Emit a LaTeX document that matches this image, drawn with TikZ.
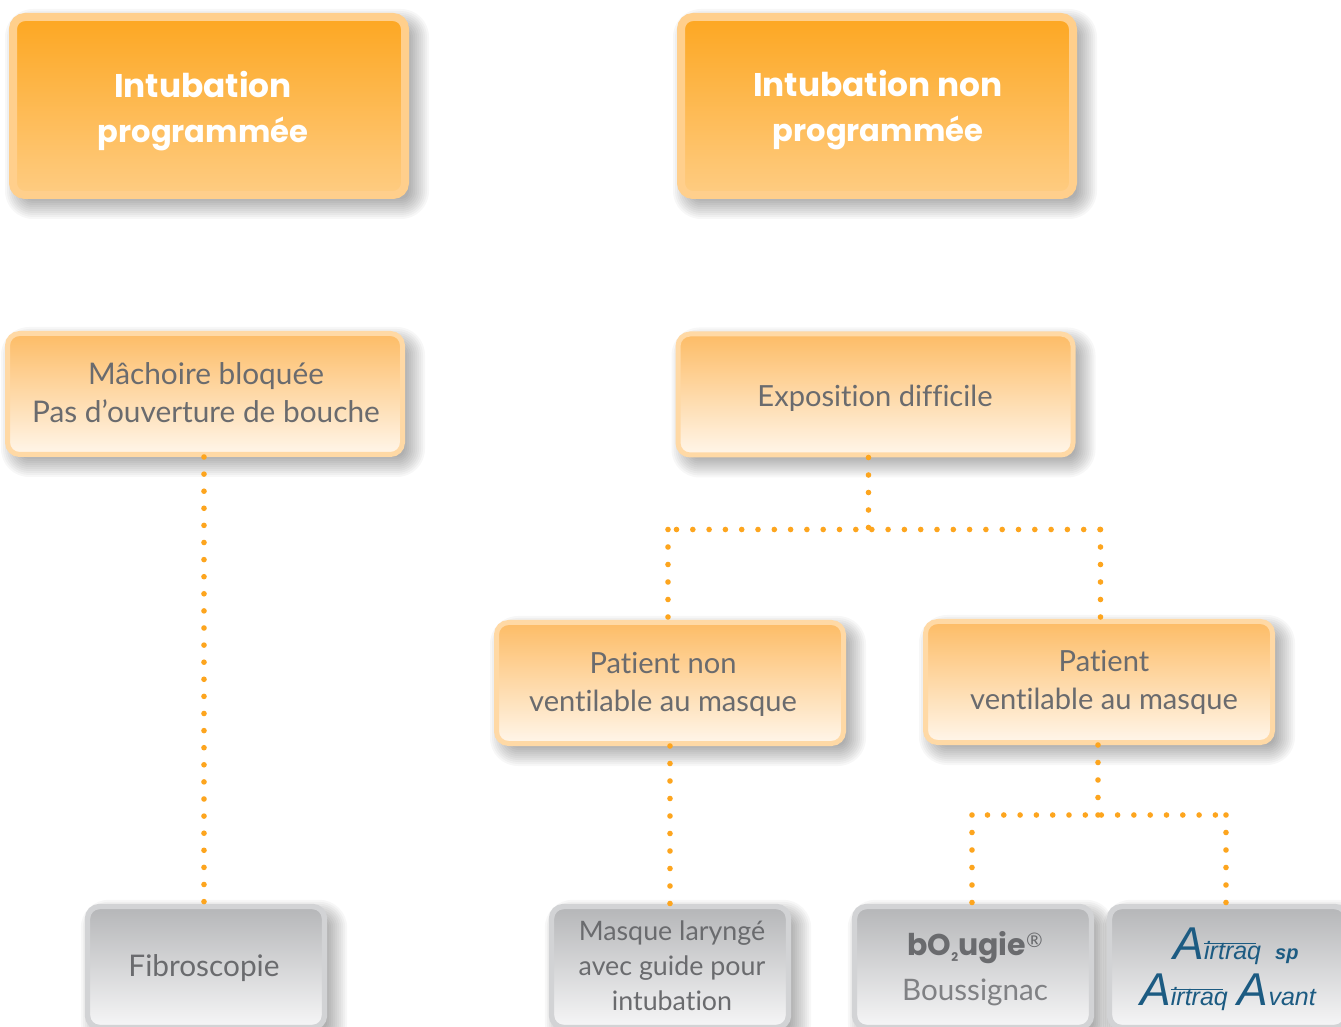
\documentclass[tikz,border=0pt]{standalone}
\usepackage{xcolor}
\usepackage{fontspec}
\setmainfont{Lato}[Ligatures=NoCommon]
\newfontfamily\boldface{Poppins}[BoldFont={* Bold},Ligatures=NoCommon]
\newfontfamily\logoface{Liberation Sans}
\usepackage{tikz}
\usetikzlibrary{positioning,backgrounds}
\definecolor{dotorange}{HTML}{FDA51E}
\definecolor{inktext}{HTML}{6A6B6E}
\definecolor{airblue}{HTML}{1C5B82}
\definecolor{headtop}{HTML}{FDA722}
\definecolor{headbot}{HTML}{FECC82}
\definecolor{headborder}{HTML}{FFCF8C}
\definecolor{softtop}{HTML}{FDBC66}
\definecolor{softbot}{HTML}{FFF6EA}
\definecolor{softborder}{HTML}{FFD9A5}
\definecolor{greytop}{HTML}{B5B6B8}
\definecolor{greybot}{HTML}{F6F6F7}
\definecolor{greyborder}{HTML}{D2D3D5}
\newcommand{\airA}[1]{{\fontsize{23}{23}\selectfont #1}}
\newcommand{\airword}{\airA{A}\rlap{\raisebox{7.5pt}{\rule{26pt}{.6pt}}}irtraq}
\newcommand{\headline}[1]{{\fontsize{16.4}{22.5}\selectfont #1}}
% stacked translucent fills stand in for a blurred shadow
\newcommand{\boxshadow}[1]{%
  \begin{scope}[on background layer]
  \foreach \r in {-8,-6,...,12} {
    \pgfmathsetmacro{\rad}{(16+\r)/2}
    \fill[black,opacity=.03,rounded corners=\rad pt]
      ([shift={(8-\r,8-\r)}]#1.north west) rectangle ([shift={(8+\r,8+\r)}]#1.south east);
  }
  \end{scope}}
\tikzset{
  hdrbox/.style={draw=#1,rounded corners=6pt,inner sep=0pt},
  headbox/.style={hdrbox=headborder,line width=4pt,top color=headtop,bottom color=headbot,minimum width=196pt,minimum height=89pt},
  softbox/.style={hdrbox=softborder,line width=2.5pt,top color=softtop,bottom color=softbot,minimum width=197.5pt,minimum height=60.5pt},
  softwide/.style={softbox,minimum width=173.5pt},
  greybox/.style={hdrbox=greyborder,line width=2.7pt,top color=greytop,bottom color=greybot,minimum width=118.5pt,minimum height=60.5pt},
  headtext/.style={font=\boldface\bfseries\fontsize{15.3}{22.5}\selectfont,text=white,align=center},
  bodytext/.style={font=\fontsize{14.9}{19}\selectfont,text=inktext,align=center},
  slimtext/.style={bodytext,font=\fontsize{14.55}{19}\selectfont},
  logotext/.style={font=\logoface\itshape\fontsize{12.5}{13}\selectfont,text=airblue},
  dotv/.style={draw=dotorange,line width=2.8pt,line cap=round,dash pattern=on 0pt off 8.75pt},
  doth/.style={draw=dotorange,line width=2.8pt,line cap=round,dash pattern=on 0pt off 8.15pt},
}
\begin{document}
\begin{tikzpicture}[x=0.5pt,y=-0.5pt]
\useasboundingbox (0,0) rectangle (1341,1027);
\begin{scope}[on background layer]
\fill[white] (0,0) rectangle (1341,1027);
\end{scope}
% top row
\node[headbox] (prog) at (209,106) {};
\node[headbox] (nonprog) at (877,106) {};
\node[headtext] (progtext) at (203,111) {\headline{Intubation}\\programmée};
\node[headtext] (nonprogtext) at (878,110) {\headline{Intubation non}\\programmée};
% second row
\node[softbox] (jaw) at (205,394) {};
\node[softbox] (expo) at (875.5,394.5) {};
\node[bodytext] (jawtext) at (206,393) {Mâchoire bloquée\\Pas d’ouverture de bouche};
\node[slimtext] (expotext) at (875,398) {Exposition difficile};
% third row
\node[softwide] (nonvent) at (670,683) {};
\node[softwide] (vent) at (1099,682) {};
\node[slimtext] (nonventtext) at (663,684.5) {Patient non\\ventilable au masque};
\node[slimtext] (venttext) at (1104,682.5) {Patient\\ventilable au masque};
% bottom row
\node[greybox] (fibro) at (206,967) {};
\node[greybox] (larynx) at (670,967) {};
\node[greybox] (bougie) at (973,967) {};
\node[greybox] (airtraq) at (1228,967) {};
\node[bodytext] (fibrotext) at (204,968) {Fibroscopie};
\node[bodytext,font=\fontsize{13.4}{17.5}\selectfont] (larynxtext) at (672,966) {Masque laryngé\\avec guide pour\\intubation};
\node[font=\boldface\bfseries\fontsize{15}{15}\selectfont,text=inktext] (bougielogo) at (975,948) {bO\raisebox{-3pt}{\fontsize{6}{6}\selectfont 2}ugie\raisebox{4pt}{\fontsize{10}{10}\selectfont\normalfont\mdseries ®}};
\node[bodytext,font=\fontsize{14.8}{19}\selectfont,text=inktext!85] (bougietext) at (975,992) {Boussignac};
\node[logotext] (airsp) at (1236,946) {\airword\hspace{7pt}{\fontsize{10}{10}\selectfont\bfseries sp}};
\node[logotext] (airavant) at (1228,992) {\airword\hspace{5pt}\airA{A}vant};
% shadows
\foreach \b in {prog,nonprog,jaw,expo,nonvent,vent,fibro,larynx,bougie,airtraq} {\boxshadow{\b}}
% connectors
\coordinate (jfibro) at (204,680);
\coordinate (jlarynx) at (670,820);
\coordinate (jexpo) at (868.5,529.5);
\coordinate (jleft) at (668,529.5);
\coordinate (jright) at (1100.5,529.5);
\coordinate (jvent) at (1098,815);
\coordinate (jbougie) at (972,815);
\coordinate (jairtraq) at (1226,815);
\draw[dotv,dash pattern=on 0pt off 8.55pt] (jfibro |- jaw.south) -- (jfibro |- fibro.north);
\draw[dotv] (jlarynx |- nonvent.south) -- (jlarynx |- larynx.north);
\draw[dotv] (jexpo |- expo.south) -- (jexpo);
\draw[doth,dash phase=1.8pt] (jexpo) -- (jleft);
\draw[doth,dash phase=6.5pt] (jexpo) -- (jright);
\draw[dotv] (jleft) -- (jleft |- nonvent.north);
\draw[dotv] (jright) -- (jright |- vent.north);
\draw[dotv] (jvent |- vent.south) -- (jvent);
\draw[doth,dash phase=1.8pt] (jvent) -- (jbougie);
\draw[doth,dash phase=6.5pt] (jvent) -- (jairtraq);
\draw[dotv] (jbougie) -- (jbougie |- bougie.north);
\draw[dotv] (jairtraq) -- (jairtraq |- airtraq.north);
\end{tikzpicture}
\end{document}
